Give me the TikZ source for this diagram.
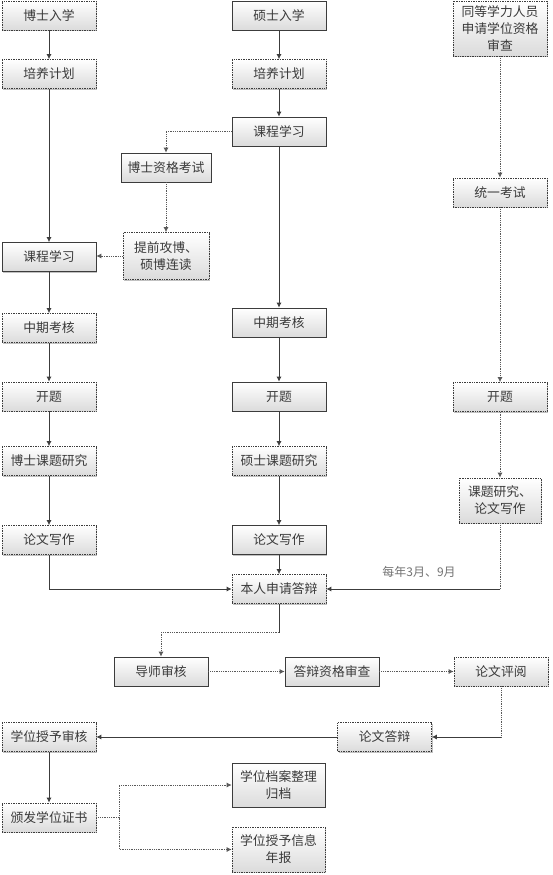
\documentclass[tikz,border=0pt]{standalone}
\usepackage{fontspec}
\setmainfont{Noto Sans CJK SC}
\usetikzlibrary{arrows.meta,shadows,calc}
\definecolor{edge}{HTML}{3C3C3C}
\definecolor{txt}{HTML}{3A3A3A}
\begin{document}
\begin{tikzpicture}[x=1pt,y=-1pt,
  box/.style={draw=edge, line width=0.7pt, top color=white, bottom color=black!14,
    text=txt, inner sep=0pt, minimum width=94pt, minimum height=29pt,
    font=\fontsize{12.8}{17}\selectfont, align=center,
    drop shadow={shadow xshift=1.2pt, shadow yshift=-1.2pt, fill=black!40, opacity=0.6}},
  dbox/.style={box, densely dotted},
  sl/.style={draw=edge, line width=0.8pt},
  dl/.style={draw=edge!85, line width=0.8pt, densely dotted},
  arr/.style={-{Latex[length=5pt,width=5pt]}},
  note/.style={text=black!55, font=\fontsize{12}{14}\selectfont, inner sep=0pt}
]
\fill[white] (0,0) rectangle (553,875);
\useasboundingbox (0,0) rectangle (553,875);

% left column
\node[dbox] (L1) at (49,15.5) {博士入学};
\node[dbox] (L2) at (49,74) {培养计划};
\node[box]  (L3) at (49,257) {课程学习};
\node[dbox] (L4) at (49,328) {中期考核};
\node[dbox] (L5) at (49,396.5) {开题};
\node[dbox] (L6) at (49,461) {博士课题研究};
\node[dbox] (L7) at (49,540) {论文写作};

% middle column
\node[box]  (M1) at (279,15.5) {硕士入学};
\node[dbox] (M2) at (279,74) {培养计划};
\node[box]  (M3) at (279,131.5) {课程学习};
\node[box, minimum width=90pt] (D1) at (166,167.5) {博士资格考试};
\node[dbox, minimum width=86pt, minimum height=47pt] (D2) at (166,256) {提前攻博、\\硕博连读};
\node[box]  (M4) at (279,322.5) {中期考核};
\node[box]  (M5) at (279,396.5) {开题};
\node[dbox] (M6) at (279,461) {硕士课题研究};
\node[box]  (M7) at (279,540) {论文写作};
\node[dbox] (A)  at (279,589) {本人申请答辩};

% right column
\node[dbox, minimum height=55pt] (R1) at (500,28.5) {同等学力人员\\申请学位资格\\审查};
\node[dbox] (R2) at (500,192.5) {统一考试};
\node[dbox] (R3) at (500,397) {开题};
\node[dbox, minimum width=82pt, minimum height=45pt] (R4) at (500,500.5) {课题研究、\\论文写作};

% bottom
\node[box]  (B1) at (161,671.5) {导师审核};
\node[box]  (B2) at (332,671.5) {答辩资格审查};
\node[dbox] (B3) at (501,671.5) {论文评阅};
\node[dbox] (B4) at (384.5,737) {论文答辩};
\node[dbox] (C1) at (49,737) {学位授予审核};
\node[dbox] (C2) at (49,817.5) {颁发学位证书};
\node[box, minimum width=93pt, minimum height=44pt] (C3) at (278.5,785) {学位档案整理\\归档};
\node[dbox, minimum width=93pt, minimum height=45pt] (C4) at (278.5,849.5) {学位授予信息\\年报};

\node[note] (N) at (419,572) {每年3月、9月};

% left column connectors
\draw[sl,arr] (L1) -- (L2);
\draw[sl,arr] (L2) -- (L3);
\draw[sl,arr] (L3) -- (L4);
\draw[sl,arr] (L4) -- (L5);
\draw[sl,arr] (L5) -- (L6);
\draw[sl,arr] (L6) -- (L7);
\draw[sl,arr] (L7.south) |- (A.west);

% middle column connectors
\draw[sl,arr] (M1) -- (M2);
\draw[sl,arr] (M2) -- (M3);
\draw[sl,arr] (M3) -- (M4);
\draw[sl,arr] (M4) -- (M5);
\draw[sl,arr] (M5) -- (M6);
\draw[sl,arr] (M6) -- (M7);
\draw[sl,arr] (M7) -- (A);
\draw[dl,arr] (M3.west) -| (D1.north);
\draw[dl,arr] (D1) -- (D2);
\draw[dl,arr] (D2.west) -- (D2.west -| L3.east);

% right column connectors
\draw[dl,arr] (R1) -- (R2);
\draw[dl,arr] (R2) -- (R3);
\draw[dl,arr] (R3) -- (R4);
\coordinate (rc) at (R4.south |- A.east);
\draw[dl] (R4.south) -- (rc);
\draw[sl,arr] (rc) -- (A.east);

% bottom connectors
\path (A.south) ++(0,29) coordinate (ac);
\draw[sl] (A.south) -- (ac);
\draw[dl,arr] (ac) -| (B1.north);
\draw[dl,arr] (B1) -- (B2);
\draw[dl,arr] (B2) -- (B3);
\coordinate (bc) at (B3.south |- B4.east);
\draw[dl] (B3.south) -- (bc);
\draw[sl,arr] (bc) -- (B4.east);
\draw[sl,arr] (B4) -- (C1);
\draw[sl,arr] (C1) -- (C2);
\path (C2.east) ++(23,0) coordinate (cj);
\draw[dl] (C2.east) -- (cj);
\draw[dl,arr] (cj) |- (C3.west);
\draw[dl,arr] (cj) |- (C4.west);
\end{tikzpicture}
\end{document}
